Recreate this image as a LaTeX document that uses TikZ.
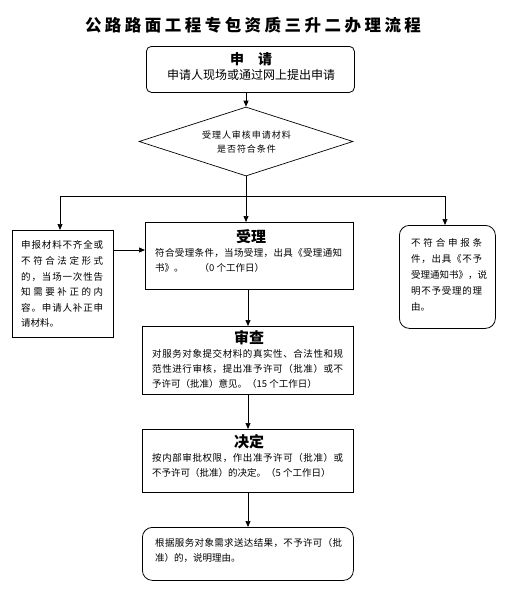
\documentclass[tikz,border=0pt]{standalone}
\usepackage{fontspec}
\setmainfont{Noto Sans CJK SC}
\usetikzlibrary{shapes.geometric,arrows.meta}
\def\endspread{}
\def\spreadchars#1{\spreadaux#1\endspread}
\def\spreadaux#1{\ifx#1\endspread\else#1\hfill\expandafter\spreadaux\fi}
\newcommand\spr[2]{\hbox to #1{\spreadchars{#2}\unskip}}
\tikzset{
 box/.style={draw, line width=0.8pt, inner sep=0pt, anchor=north west},
 txt/.style={inner sep=0pt, anchor=west, font=\fontsize{9.5pt}{11pt}\selectfont},
 ctxt/.style={inner sep=0pt, font=\fontsize{9.5pt}{11pt}\selectfont},
 ttl/.style={inner sep=0pt, font=\fontsize{15pt}{17pt}\selectfont\bfseries},
 arr/.style={-{Triangle[length=6pt,width=5pt]}, line width=0.7pt},
 ln/.style={line width=0.7pt}
}
\begin{document}
\begin{tikzpicture}[x=1pt,y=-1pt]
\useasboundingbox (0,0) rectangle (508,592);
% title
\node[inner sep=0pt, font=\fontsize{16.5pt}{18pt}\selectfont\bfseries] (title) at (253,25) {\spr{336pt}{公路路面工程专包资质三升二办理流程}};
% apply box
\node[box, rounded corners=5pt, minimum width=208pt, minimum height=46pt] (sq) at (146,46) {};
\node[ttl, font=\fontsize{14pt}{16pt}\selectfont\bfseries] (sqt) at (251,59) {申\hspace{14pt}请};
\node[ctxt, font=\fontsize{12pt}{14pt}\selectfont] (sqs) at (250,75) {\spr{166pt}{申请人现场或通过网上提出申请}};
% diamond
\node[draw, diamond, inner sep=0pt, minimum width=214pt, minimum height=69pt, line width=0.7pt] (dia) at (246,141.5) {};
\node[ctxt, font=\fontsize{9pt}{11pt}\selectfont] (d1) at (246.5,135) {\spr{89pt}{受理人审核申请材料}};
\node[ctxt, font=\fontsize{9pt}{11pt}\selectfont] (d2) at (246.5,149) {\spr{59pt}{是否符合条件}};
% left box
\node[box, minimum width=101pt, minimum height=107pt] (lb) at (12,230) {};
\node[txt] (l1) at (21,245) {\spr{82pt}{申报材料不齐全或}};
\node[txt] (l2) at (21,261) {\spr{82pt}{不符合法定形式}};
\node[txt] (l3) at (21,277) {\spr{82pt}{的，当场一次性告}};
\node[txt] (l4) at (21,292) {\spr{82pt}{知需要补正的内}};
\node[txt] (l5) at (21,307.5) {\spr{82pt}{容。申请人补正申}};
\node[txt] (l6) at (21,323) {请材料。};
% accept box
\node[box, minimum width=208pt, minimum height=67pt] (sl) at (145,222) {};
\node[ttl] (slt) at (251,237) {受理};
\node[txt] (s1) at (155,253) {\spr{187pt}{符合受理条件，当场受理，出具《受理通知}};
\node[txt] (s2) at (155,268) {书》。\hspace{16pt}（0 个工作日）};
% right box
\node[box, rounded corners=10pt, minimum width=96pt, minimum height=103pt] (rb) at (399,225) {};
\node[txt] (r1) at (411,243) {\spr{71pt}{不符合申报条}};
\node[txt] (r2) at (411,259) {\spr{71pt}{件，出具《不予}};
\node[txt] (r3) at (411,275) {\spr{71pt}{受理通知书》，说}};
\node[txt] (r4) at (411,291) {\spr{71pt}{明不予受理的理}};
\node[txt] (r5) at (411,307) {由。};
% review box
\node[box, minimum width=211pt, minimum height=68pt] (sc) at (142,326) {};
\node[ttl] (sct) at (249,338) {审查};
\node[txt] (c1) at (152,354) {\spr{191pt}{对服务对象提交材料的真实性、合法性和规}};
\node[txt] (c2) at (152,369) {\spr{191pt}{范性进行审核，提出准予许可（批准）或不}};
\node[txt] (c3) at (152,383.5) {予许可（批准）意见。（15 个工作日）};
% decision box
\node[box, minimum width=211pt, minimum height=63pt] (jd) at (142,429) {};
\node[ttl] (jdt) at (249,442) {决定};
\node[txt] (j1) at (152,458) {\spr{191pt}{按内部审批权限，作出准予许可（批准）或}};
\node[txt] (j2) at (152,473) {不予许可（批准）的决定。（5 个工作日）};
% final box
\node[box, rounded corners=10pt, minimum width=211pt, minimum height=53pt] (fin) at (142,527) {};
\node[txt] (f1) at (155,543) {\spr{187pt}{根据服务对象需求送达结果，不予许可（批}};
\node[txt] (f2) at (155,558) {准）的，说明理由。};
% connectors
\draw[arr] (sq.south -| dia.north) -- (dia.north);
\coordinate (j) at (246,196);
\coordinate (jl) at (60,196);
\coordinate (jr) at (445,196);
\draw[ln] (dia.south) -- (j);
\draw[ln] (jl) -- (jr);
\draw[arr] (jl) -- (jl |- lb.north);
\draw[arr] (j) -- (j |- sl.north);
\draw[arr] (jr) -- (jr |- rb.north);
\coordinate (la) at (113,250);
\draw[arr] (la) -- (la -| sl.west);
\coordinate (cx) at (248,0);
\draw[arr] (sl.south -| cx) -- (sc.north -| cx);
\draw[arr] (sc.south -| cx) -- (jd.north -| cx);
\draw[arr] (jd.south -| cx) -- (fin.north -| cx);
\end{tikzpicture}
\end{document}
